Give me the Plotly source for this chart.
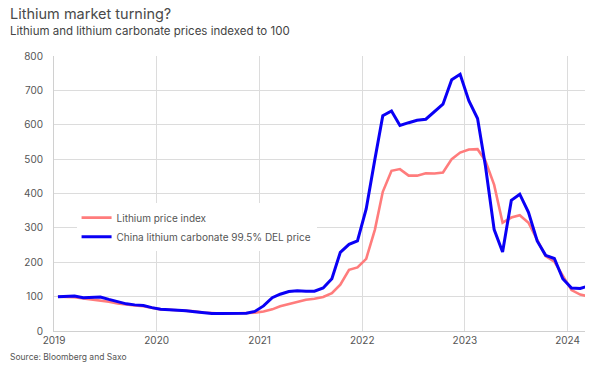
import plotly.graph_objects as go
import pandas as pd

# Monthly observations (mid-month), Dec 2018 .. Feb 2024
months = pd.date_range("2018-12-15", periods=63, freq="MS") + pd.Timedelta(days=14)

lithium_index = [100,
    100, 98, 95, 92, 89, 85, 80, 76, 74, 72, 67, 63,
    62, 61, 59, 57, 54, 52, 51, 51, 51, 51, 53, 57,
    63, 72, 79, 85, 91, 94, 99, 110, 135, 178, 185, 210,
    295, 405, 466, 471, 452, 452, 459, 458, 461, 500, 519, 528,
    529, 495, 425, 315, 330, 337, 315, 265, 218, 202, 160, 119,
    106, 101]

china_carbonate = [100,
    101, 102, 97, 98, 99, 92, 85, 79, 76, 74, 68, 63,
    62, 61, 59, 56, 53, 51, 51, 51, 51, 52, 57, 73,
    97, 107, 115, 117, 116, 116, 125, 152, 229, 252, 262, 355,
    500, 626, 640, 598, 606, 613, 616, 637, 660, 731, 747, 670,
    618, 480, 295, 230, 380, 398, 345, 262, 220, 211, 152, 125,
    124, 131]

series_names = ["Lithium price index", "China lithium carbonate 99.5% DEL price"]
year_ticks = ["2019", "2020", "2021", "2022", "2023", "2024"]
y_ticks = [0, 100, 200, 300, 400, 500, 600, 700, 800]

FONT = "Inter, Roboto, 'Noto Sans', sans-serif"

fig = go.Figure()
fig.add_trace(go.Scatter(x=months, y=lithium_index, mode="lines",
                         name=series_names[0],
                         line=dict(color="#ff7c7c", width=2.6)))
fig.add_trace(go.Scatter(x=months, y=china_carbonate, mode="lines",
                         name=series_names[1],
                         line=dict(color="#0a00f5", width=3)))

fig.update_layout(
    width=608, height=373,
    margin=dict(l=54, r=23, t=56, b=42),
    paper_bgcolor="white", plot_bgcolor="white",
    font=dict(family=FONT, color="#555555", size=10),
    showlegend=True,
    legend=dict(x=0.0425, y=0.465, xanchor="left", yanchor="top",
                bgcolor="white", font=dict(size=10, color="#555555"),
                tracegroupgap=0, itemwidth=30),
    xaxis=dict(type="date",
               range=["2019-01-01", "2024-03-03"],
               tickvals=[f"{y}-01-01" for y in year_ticks],
               ticktext=year_ticks,
               showgrid=True, gridcolor="#dcdcdc", gridwidth=1,
               showline=True, linecolor="#d0d0d0",
               ticks="", tickfont=dict(size=10, color="#555555"),
               zeroline=False),
    yaxis=dict(range=[0, 800], tickvals=y_ticks,
               showgrid=True, gridcolor="#dcdcdc", gridwidth=1,
               showline=True, linecolor="#d0d0d0",
               ticks="", ticklabelstandoff=8,
               tickfont=dict(size=10, color="#555555"),
               zeroline=False),
)

fig.add_annotation(text="Lithium market turning?", xref="paper", yref="paper",
                   x=-46/531, y=1 + 42/275, xanchor="left", yanchor="middle",
                   showarrow=False, font=dict(size=14.5, color="#4a4a4a", family=FONT))
fig.add_annotation(text="Lithium and lithium carbonate prices indexed to 100", xref="paper", yref="paper",
                   x=-46/531, y=1 + 25/275, xanchor="left", yanchor="middle",
                   showarrow=False, font=dict(size=11.5, color="#444444", family=FONT))
fig.add_annotation(text="Source: Bloomberg and Saxo", xref="paper", yref="paper",
                   x=-46/531, y=-26/275, xanchor="left", yanchor="middle",
                   showarrow=False, font=dict(size=8.5, color="#555555", family=FONT))

fig.write_html("out.html", config={"displayModeBar": False},
               post_script="document.body.style.margin='0px';")
